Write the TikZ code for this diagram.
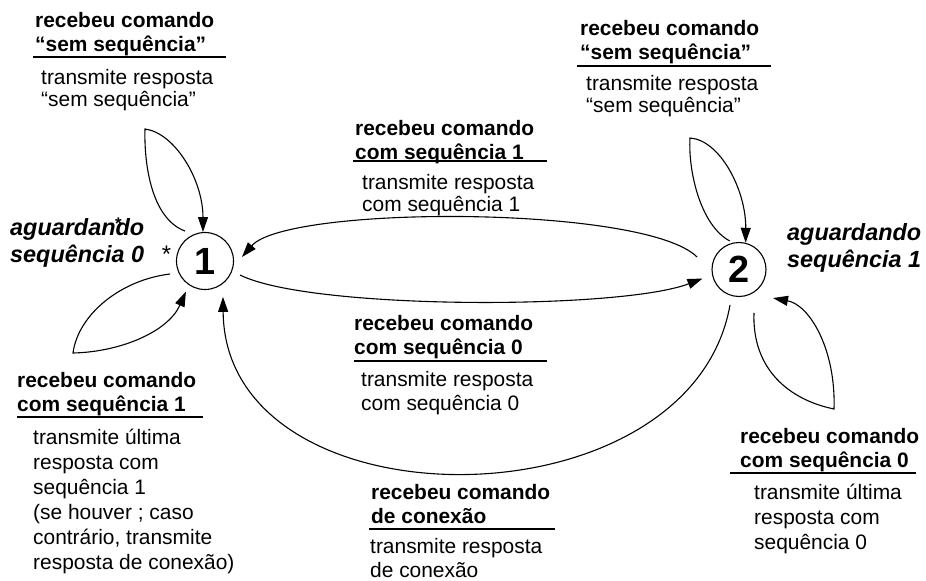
\documentclass[tikz,border=0pt]{standalone}
\usepackage{fontspec}
\setmainfont{Liberation Sans}
\usetikzlibrary{arrows.meta,calc}
\begin{document}
\begin{tikzpicture}[x=1bp,y=-1bp,
  state/.style={draw, circle, line width=1.1bp, inner sep=0pt, font=\fontsize{38}{38}\selectfont\bfseries},
  cond/.style={anchor=north west, inner sep=0pt, align=left, font=\fontsize{21}{24}\selectfont\bfseries},
  act/.style={anchor=north west, inner sep=0pt, align=left, font=\fontsize{21}{#1}\selectfont},
  act/.default=25,
  sname/.style={anchor=north west, inner sep=0pt, align=left, font=\fontsize{23.5}{27}\selectfont\bfseries\itshape},
  starmark/.style={inner sep=0pt, font=\fontsize{24}{24}\selectfont},
  rule/.style={line width=1.1bp},
  tr/.style={line width=1.1bp, -{Triangle[length=15bp,width=10bp]}}
]
\useasboundingbox (0,0) rectangle (926,581);

% states
\node[state, minimum size=57bp] (n1) at (205,261) {1};
\node[state, minimum size=54bp] (n2) at (739,269.5) {2};

% state names
\node[sname] (w1) at (10,218) {aguardando\\sequência 0};
\node[sname] (w2) at (787,223) {aguardando\\sequência 1};
\node[starmark] (star1) at (166.5,254) {*};
\node[starmark, font=\fontsize{17}{17}\selectfont\bfseries] (star2) at (118.5,224) {*};

% top-left label
\node[cond] (c1) at (35,12) {recebeu comando\\“sem sequência”};
\draw[rule] (33,57) -- (226,57);
\node[act=22] (a1) at (41,69) {transmite resposta\\“sem sequência”};

% top-right label
\node[cond] (c2) at (580,20) {recebeu comando\\“sem sequência”};
\draw[rule] (577,66) -- (771,66);
\node[act=22] (a2) at (586,75) {transmite resposta\\“sem sequência”};

% middle-top label
\node[cond] (c3) at (355,120) {recebeu comando\\com sequência 1};
\draw[rule] (353,161) -- (547,161);
\node[act=22] (a3) at (362,174) {transmite resposta\\com sequência 1};

% middle-bottom label
\node[cond] (c4) at (354,315) {recebeu comando\\com sequência 0};
\draw[rule] (354,361) -- (547,361);
\node[act=24] (a4) at (361,371) {transmite resposta\\com sequência 0};

% bottom label
\node[cond] (c5) at (371,484) {recebeu comando\\de conexão};
\draw[rule] (369,529) -- (555,529);
\node[act=24] (a5) at (370,538) {transmite resposta\\de conexão};

% right label
\node[cond] (c6) at (740,428) {recebeu comando\\com sequência 0};
\draw[rule] (730,473) -- (916,473);
\node[act=25] (a6) at (754,484) {transmite última\\resposta com\\sequência 0};

% left-bottom label
\node[cond] (c7) at (17,372) {recebeu comando\\com sequência 1};
\draw[rule] (17,417) -- (203,417);
\node[act=25] (a7) at (33,429) {transmite última\\resposta com\\sequência 1\\(se houver ; caso\\contrário, transmite\\resposta de conexão)};

% transitions
% self-loop 1, top
\draw[tr] ($(n1)+(123.7:36bp)$) .. controls (150,218) and (144,160) .. (145,129)
          .. controls (175,133) and (203,180) .. (n1.94);
% self-loop 1, bottom-left
\draw[tr] ($(n1)+(200.4:37.3bp)$) .. controls (120,280) and (78,315) .. (73,353)
          .. controls (120,352) and (168,332) .. ($(n1)+(238:36bp)$);
% self-loop 2, top
\draw[tr] ($(n2)+(108:30bp)$) .. controls (700,225) and (688,170) .. (690,138)
          .. controls (720,140) and (746,190) .. (n2.76);
% self-loop 2, bottom-right
\draw[tr] ($(n2)+(289:46bp)$) .. controls (752,370) and (790,400) .. (834,409)
          .. controls (836,350) and (810,305) .. ($(n2)+(320:44.4bp)$);
% 2 -> 1 top arc
\draw[tr] ($(n2)+(163.4:43.8bp)$) .. controls (645,205) and (287,205) .. ($(n1)+(6.2:37.2bp)$);
% 1 -> 2 bottom arc
\draw[tr] ($(n1)+(-21.8:37.7bp)$) .. controls (310,310) and (620,310) .. ($(n2)+(193.9:37.6bp)$);
% 2 -> 1 big arc (connection)
\draw[tr] ($(n2)+(255.8:36.6bp)$) .. controls (690,530) and (225,530) .. ($(n1)+(296.6:40.2bp)$);
\end{tikzpicture}
\end{document}
